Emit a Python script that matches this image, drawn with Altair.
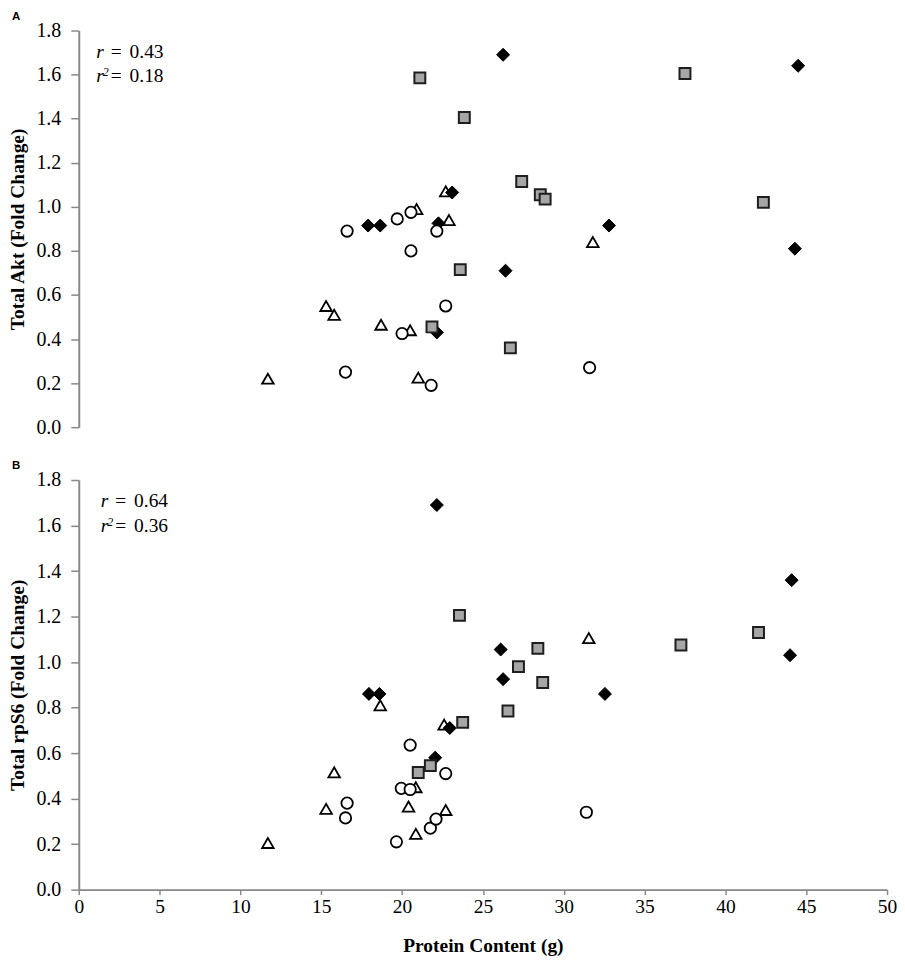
import altair as alt
import pandas as pd

# ---------------- Panel A: Total Akt ----------------
a_tri_x = [11.7, 15.3, 15.8, 18.7, 20.5, 20.9, 21.0, 22.7, 22.9, 31.8]
a_tri_y = [0.22, 0.55, 0.51, 0.465, 0.44, 0.99, 0.225, 1.07, 0.94, 0.84]
a_dia_x = [17.9, 18.65, 22.25, 22.15, 23.1, 26.25, 26.4, 32.8, 44.5, 44.3]
a_dia_y = [0.915, 0.915, 0.925, 0.43, 1.065, 1.69, 0.71, 0.915, 1.64, 0.81]
a_sq_x = [21.1, 21.85, 23.85, 23.6, 26.7, 27.4, 28.55, 28.85, 37.5, 42.35]
a_sq_y = [1.585, 0.455, 1.405, 0.715, 0.36, 1.115, 1.055, 1.035, 1.605, 1.02]
a_cir_x = [16.6, 16.5, 19.7, 20.55, 20.55, 20.0, 22.15, 22.7, 21.8, 31.6]
a_cir_y = [0.89, 0.25, 0.945, 0.975, 0.80, 0.425, 0.89, 0.55, 0.19, 0.27]

# ---------------- Panel B: Total rpS6 ----------------
b_tri_x = [11.7, 15.3, 15.8, 18.65, 20.4, 20.85, 20.85, 22.6, 22.7, 31.55]
b_tri_y = [0.205, 0.355, 0.515, 0.81, 0.365, 0.45, 0.245, 0.725, 0.35, 1.105]
b_dia_x = [17.95, 18.6, 22.15, 22.05, 22.95, 26.1, 26.25, 32.55, 44.1, 44.0]
b_dia_y = [0.86, 0.86, 1.69, 0.58, 0.71, 1.055, 0.925, 0.86, 1.36, 1.03]
b_sq_x = [21.0, 21.75, 23.55, 23.75, 26.55, 27.2, 28.4, 28.7, 37.25, 42.05]
b_sq_y = [0.515, 0.545, 1.205, 0.735, 0.785, 0.98, 1.06, 0.91, 1.075, 1.13]
b_cir_x = [16.6, 16.5, 19.65, 19.95, 20.5, 20.5, 21.75, 22.1, 22.7, 31.4]
b_cir_y = [0.38, 0.315, 0.21, 0.445, 0.44, 0.635, 0.27, 0.31, 0.51, 0.34]

x_ticks = [0, 5, 10, 15, 20, 25, 30, 35, 40, 45, 50]
y_ticks = [0.0, 0.2, 0.4, 0.6, 0.8, 1.0, 1.2, 1.4, 1.6, 1.8]

SERIF = "Liberation Serif"
SANS = "Liberation Sans"
AXIS_GREY = "#898989"

styles = {
    "triangle": dict(shape="triangle-up", fill="white", stroke="black", strokeWidth=1.8, size=135),
    "diamond": dict(shape="diamond", fill="black", stroke="black", strokeWidth=1, size=170),
    "square": dict(shape="square", fill="#a6a6a6", stroke="#1e1e1e", strokeWidth=2, size=120),
    "circle": dict(shape="circle", fill="white", stroke="black", strokeWidth=1.8, size=130),
}


def y_axis(title):
    return alt.Axis(
        values=y_ticks, format=".1f", grid=False, title=title,
        domainColor=AXIS_GREY, domainWidth=2, tickColor=AXIS_GREY, tickWidth=1.5,
        tickSize=8, labelPadding=10, labelFont=SERIF, labelFontSize=20,
        labelColor="black", titleFont=SERIF, titleFontSize=19.5, titleFontWeight="bold",
        titleColor="black", titlePadding=8,
    )


def x_axis_b():
    return alt.Axis(
        values=x_ticks, format="d", grid=False, title="Protein Content (g)",
        domainColor=AXIS_GREY, domainWidth=2, tickColor=AXIS_GREY, tickWidth=1.5,
        tickSize=5, labelPadding=3, labelFont=SERIF, labelFontSize=19.5,
        labelColor="black", titleFont=SERIF, titleFontSize=19.5, titleFontWeight="bold",
        titleColor="black", titlePadding=21, labelFlush=False,
    )


def panel(series, ytitle, letter, r_val, r2_val, height, show_x, txt_dx):
    xscale = alt.Scale(domain=[0, 50], nice=False, zero=True)
    yscale = alt.Scale(domain=[0, 1.8], nice=False)
    xax = x_axis_b() if show_x else None
    yax = y_axis(ytitle)
    layers = []
    for name, xs, ys in series:
        st = styles[name]
        df = pd.DataFrame({"protein": xs, "value": ys})
        layers.append(
            alt.Chart(df).mark_point(
                shape=st["shape"], filled=True, fill=st["fill"], stroke=st["stroke"],
                strokeWidth=st["strokeWidth"], size=st["size"], opacity=1,
            ).encode(
                x=alt.X("protein:Q", scale=xscale, axis=xax),
                y=alt.Y("value:Q", scale=yscale, axis=yax),
            )
        )

    one = pd.DataFrame({"k": [0]})

    def txt(text, x, y, size=19.5, italic=False, font=SERIF, weight="normal"):
        return alt.Chart(one).mark_text(
            text=text, font=font, fontSize=size, fontStyle=("italic" if italic else "normal"),
            fontWeight=weight, align="left", baseline="alphabetic", color="black",
        ).encode(x=alt.value(x), y=alt.value(y))

    d = txt_dx
    layers += [
        txt(letter, -67, -11, size=11.5, font=SANS, weight="bold"),
        txt("r", 17.5 + d, 27.5, italic=True),
        txt("=", 32 + d, 27.5),
        txt(r_val, 51 + d, 27.5),
        txt("r", 17.5 + d, 51.7, italic=True),
        txt("2", 24 + d, 46, size=12, italic=True),
        txt("=", 32 + d, 51.7),
        txt(r2_val, 51 + d, 51.7),
    ]
    return alt.layer(*layers).properties(width=811, height=height)


panel_a = panel(
    [("triangle", a_tri_x, a_tri_y), ("diamond", a_dia_x, a_dia_y),
     ("square", a_sq_x, a_sq_y), ("circle", a_cir_x, a_cir_y)],
    "Total Akt (Fold Change)", "A", "0.43", "0.18", 398, False, 0,
)
panel_b = panel(
    [("triangle", b_tri_x, b_tri_y), ("diamond", b_dia_x, b_dia_y),
     ("square", b_sq_x, b_sq_y), ("circle", b_cir_x, b_cir_y)],
    "Total rpS6 (Fold Change)", "B", "0.64", "0.36", 411, True, 4.5,
)

chart = alt.vconcat(panel_a, panel_b, spacing=53, bounds="flush").properties(
    padding={"left": 0, "top": 1, "right": 0, "bottom": 0},
    background="white",
).configure_view(stroke=None)

chart.save("out.html", embed_options={"renderer": "svg", "actions": False})
